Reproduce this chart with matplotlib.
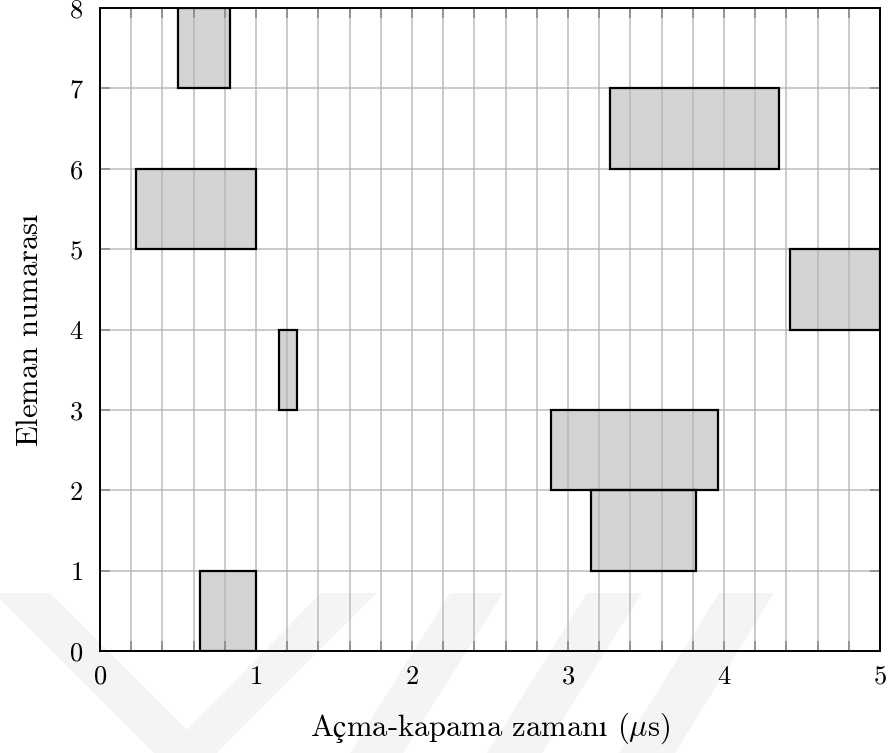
import matplotlib
matplotlib.use("Agg")
import matplotlib.pyplot as plt
from matplotlib.patches import Polygon
import numpy as np

# data: element index and switching on/off times (microseconds)
elements = [0, 1, 2, 3, 4, 5, 6, 7]
t_on = [0.64, 3.145, 2.89, 1.15, 4.42, 0.23, 3.27, 0.50]
t_off = [1.00, 3.82, 3.96, 1.26, 5.00, 1.00, 4.35, 0.835]
x_ticks = [0, 1, 2, 3, 4, 5]
y_ticks = [0, 1, 2, 3, 4, 5, 6, 7, 8]

plt.rcParams['font.family'] = ['cmr10', 'DejaVu Serif']
plt.rcParams['mathtext.fontset'] = 'cm'
plt.rcParams['axes.unicode_minus'] = False
plt.rcParams['axes.formatter.use_mathtext'] = True

W, H = 892, 753
fig = plt.figure(figsize=(W / 100, H / 100), dpi=100)

# faint background watermark (decoration, figure pixel coords)
wm_color = '#f4f4f4'
def px(pts):
    return [(x / W, 1 - y / H) for x, y in pts]
wm_shapes = [
    [(-6, 593), (50, 593), (187, 730), (321, 593), (377, 593), (217, 753), (154, 753)],
    [(450, 593), (503, 593), (403, 753), (350, 753)],
    [(587, 593), (642, 593), (542, 753), (487, 753)],
    [(719, 593), (774, 593), (675, 753), (619, 753)],
]
for shp in wm_shapes:
    fig.patches.append(Polygon(px(shp), closed=True, transform=fig.transFigure,
                               facecolor=wm_color, edgecolor='none', zorder=-10))

ax = fig.add_axes([100 / W, 1 - 651 / H, 780 / W, 643 / H])
ax.patch.set_alpha(0)

widths = np.array(t_off) - np.array(t_on)
ax.barh(elements, widths, left=t_on, height=1.0, align='edge',
        color='#d3d3d3', edgecolor='none', zorder=1)
ax.barh(elements, widths, left=t_on, height=1.0, align='edge',
        fill=False, edgecolor='black', linewidth=1.6, zorder=3)

ax.set_xlim(0, 5)
ax.set_ylim(0, 8)
ax.set_xticks(x_ticks)
ax.set_xticks(np.arange(0, 5.01, 0.2), minor=True)
ax.set_yticks(y_ticks)

for which in ('major', 'minor'):
    ax.grid(True, which=which, axis='x', color='#b4b4b4', linewidth=1.3, alpha=0.75)
ax.grid(True, which='major', axis='y', color='#b4b4b4', linewidth=1.3, alpha=0.75)
ax.set_axisbelow(False)

ax.tick_params(which='both', direction='in', top=True, right=True,
               length=7, width=1.2, color='#8a8a8a', labelsize=19)
ax.tick_params(axis='x', which='major', pad=10)
ax.tick_params(axis='y', which='major', pad=12)
ax.tick_params(axis='y', which='minor', left=False, right=False)

for s in ax.spines.values():
    s.set_linewidth(1.4)
    s.set_zorder(4)

ax.set_xlabel('A$\\mathrm{ç}$ma-kapama zaman$\\mathrm{ı}$ ($\\mu$s)', fontsize=22, labelpad=16)
ax.set_ylabel('Eleman numaras$\\mathrm{ı}$', fontsize=22, labelpad=18)

fig.savefig('out.png', dpi=100)
